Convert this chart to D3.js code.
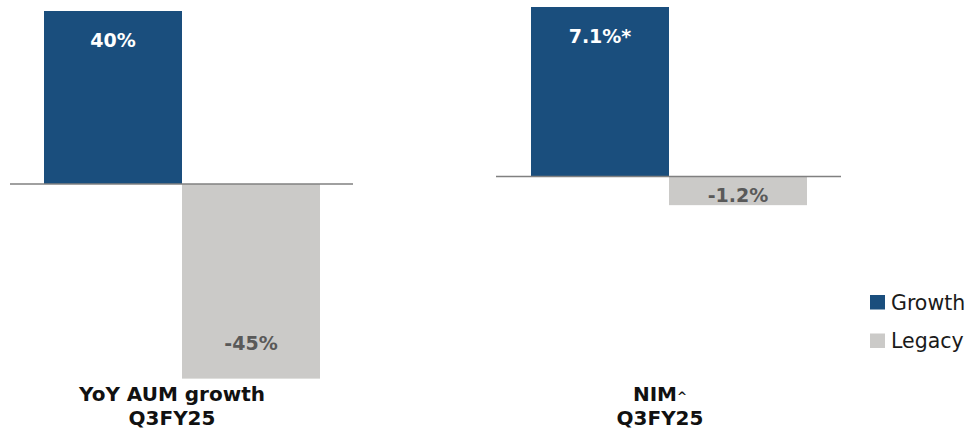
<!DOCTYPE html>
<html><head><meta charset="utf-8">
<script src="https://cdn.jsdelivr.net/npm/d3@7"></script>
<style>body{margin:0;background:#fff}svg{display:block}</style>
</head><body>
<script>
const series = ["Growth", "Legacy"];
const aumValues = [40, -45];
const aumLabels = ["40%", "-45%"];
const nimValues = [7.1, -1.2];
const nimLabels = ["7.1%*", "-1.2%"];
const panelTitles = [["YoY AUM growth", "Q3FY25"], ["NIM^", "Q3FY25"]];
const colors = {Growth: "#1A4E7D", Legacy: "#CBCAC8"};
const labelColors = {Growth: "#FFFFFF", Legacy: "#595959"};
const FONT = "'DejaVu Sans', sans-serif";

const W = 973, H = 433;
const svg = d3.select("body").append("svg").attr("width", W).attr("height", H);

const panels = [
  {values: aumValues, labels: aumLabels, title: panelTitles[0],
   x: [44, 320], y0: 184, yTop: 11, line: [10, 353], titleX: 172},
  {values: nimValues, labels: nimLabels, title: panelTitles[1],
   x: [531, 807], y0: 176.5, yTop: 7, line: [496, 841], titleX: 660}
];

panels.forEach(p => {
  const g = svg.append("g");
  const x = d3.scaleBand().domain(series).range(p.x).padding(0);
  const maxV = d3.max(p.values);
  const y = d3.scaleLinear().domain([0, maxV]).range([p.y0, p.yTop]);
  series.forEach((s, i) => {
    const v = p.values[i];
    g.append("rect")
      .attr("x", x(s)).attr("width", x.bandwidth())
      .attr("y", Math.min(y(0), y(v)))
      .attr("height", Math.abs(y(v) - y(0)))
      .attr("fill", colors[s]);
    g.append("text")
      .attr("x", x(s) + x.bandwidth() / 2)
      .attr("y", v >= 0 ? y(v) + 36 : (Math.abs(y(v)-y(0)) < 40 ? y(v) - 3 : y(v) - 29))
      .attr("text-anchor", "middle")
      .attr("font-family", FONT).attr("font-weight", "bold").attr("font-size", 19)
      .attr("fill", labelColors[s])
      .text(p.labels[i]);
  });
  g.append("line")
    .attr("x1", p.line[0]).attr("x2", p.line[1])
    .attr("y1", y(0)).attr("y2", y(0))
    .attr("stroke", "#808080").attr("stroke-width", 1.5);
  p.title.forEach((t, j) => {
    const txt = g.append("text")
      .attr("x", p.titleX).attr("y", 401 + j * 24)
      .attr("text-anchor", "middle")
      .attr("font-family", FONT).attr("font-weight", "bold").attr("font-size", 20)
      .attr("fill", "#111");
    if (t.endsWith("^")) {
      txt.append("tspan").text(t.slice(0, -1));
      txt.append("tspan").attr("font-size", 12).text("^");
    } else {
      txt.text(t);
    }
  });
});

const legend = svg.append("g");
series.forEach((s, i) => {
  const ly = 295 + i * 38.5;
  legend.append("rect").attr("x", 870).attr("y", ly).attr("width", 15).attr("height", 14.5)
    .attr("fill", colors[s]);
  legend.append("text").attr("x", 891).attr("y", ly + 14.5)
    .attr("font-family", FONT).attr("font-size", 20.5).attr("fill", "#1a1a1a")
    .text(s);
});
</script>
</body></html>
